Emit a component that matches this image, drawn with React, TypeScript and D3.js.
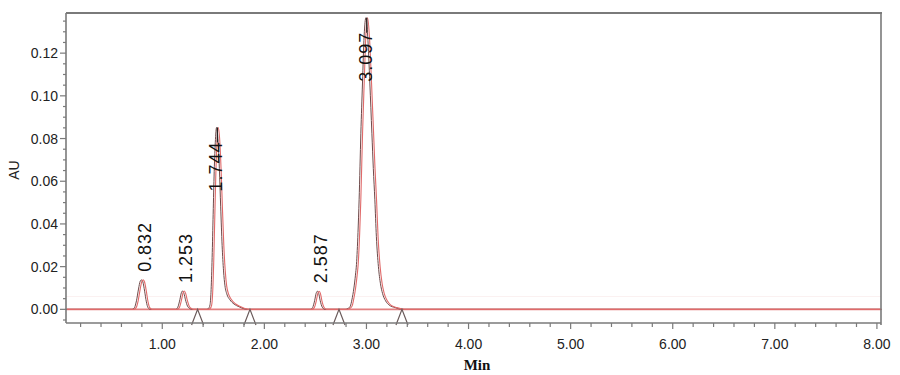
import React from "react";
import * as d3 from "d3";

const traceTimes = [
  0.057, 0.71, 0.735, 0.755, 0.775, 0.792, 0.805, 0.818, 0.835, 0.852, 0.868, 0.89,
  1.14, 1.16, 1.18, 1.195, 1.207, 1.22, 1.235, 1.255, 1.28, 1.30,
  1.44, 1.46, 1.475, 1.485, 1.495, 1.505, 1.515, 1.527, 1.54, 1.553, 1.567, 1.58, 1.594, 1.608, 1.622, 1.64, 1.67, 1.71, 1.76, 1.80, 1.84,
  2.46, 2.48, 2.50, 2.515, 2.528, 2.54, 2.555, 2.575, 2.60,
  2.80, 2.83, 2.85, 2.865, 2.885, 2.90, 2.91, 2.925, 2.936, 2.953, 2.969, 2.985, 3.003, 3.02, 3.041, 3.061, 3.075, 3.09, 3.105, 3.125, 3.145, 3.165, 3.195, 3.23, 3.29, 3.36,
  8.04,
];
const traceValues = [
  0, 0, 0.0008, 0.004, 0.0095, 0.0132, 0.0138, 0.0128, 0.0085, 0.0035, 0.0008, 0,
  0, 0.001, 0.0045, 0.0078, 0.0086, 0.0075, 0.0045, 0.0015, 0.0003, 0,
  0, 0.0004, 0.002, 0.008, 0.022, 0.042, 0.062, 0.078, 0.0852, 0.08, 0.066, 0.048, 0.03, 0.018, 0.011, 0.0072, 0.0045, 0.0025, 0.0012, 0.0004, 0,
  0, 0.0008, 0.004, 0.0075, 0.0085, 0.0075, 0.004, 0.001, 0,
  0, 0.0005, 0.0015, 0.0044, 0.01, 0.016, 0.021, 0.036, 0.0513, 0.0825, 0.106, 0.128, 0.1366, 0.128, 0.106, 0.0825, 0.066, 0.0513, 0.034, 0.02, 0.012, 0.0075, 0.004, 0.002, 0.0008, 0,
  0,
];

// Peak annotations
const peakLabels = ["0.832", "1.253", "1.744", "2.587", "3.097"];
const peakTimes = [0.805, 1.207, 1.54, 2.528, 3.003];
const peakHeights = [0.0138, 0.0086, 0.0852, 0.0085, 0.1366];

// Integration start/end markers
const markerTimes = [1.346, 1.859, 2.731, 3.348];

// Axis ticks
const xMajorTicks = [1, 2, 3, 4, 5, 6, 7, 8];
const xTickLabels = ["1.00", "2.00", "3.00", "4.00", "5.00", "6.00", "7.00", "8.00"];
const yMajorTicks = [0, 0.02, 0.04, 0.06, 0.08, 0.1, 0.12];
const yTickLabels = ["0.00", "0.02", "0.04", "0.06", "0.08", "0.10", "0.12"];

const W = 900;
const H = 375;
const L = 66;
const R = 881;
const T = 13;
const B = 323;

export default function App() {
  const x = d3.scaleLinear().domain([0.057, 8.04]).range([L, R]);
  const y = d3.scaleLinear().domain([-0.0064, 0.1388]).range([B, T]);

  const pts: [number, number][] = traceTimes.map((t, i) => [t, traceValues[i]]);
  const line = d3
    .line<[number, number]>()
    .x((d) => x(d[0]))
    .y((d) => y(d[1]))
    .curve(d3.curveMonotoneX);
  const tracePath = line(pts) || "";

  const xMinor = d3.range(1, 41).map((i) => i * 0.2).filter((v) => Math.abs(v - Math.round(v)) > 1e-6);
  const yMinor = d3.range(-1, 28).map((i) => i * 0.005).filter((v) => Math.abs(v / 0.02 - Math.round(v / 0.02)) > 1e-6);

  const axisColor = "#7a7a7a";
  const font = "'Liberation Sans', Arial, sans-serif";

  return (
    <svg width={W} height={H} style={{ position: "absolute", left: 0, top: 0, background: "#fff" }}>
      <rect x={0} y={0} width={W} height={H} fill="#fff" />
      {/* faint secondary line */}
      <line x1={L} x2={R} y1={y(0.006)} y2={y(0.006)} stroke="#fbf1f1" strokeWidth={1} />
      {/* baseline */}
      <line x1={L} x2={R} y1={y(0)} y2={y(0)} stroke="#e28080" strokeWidth={1.6} />

      {/* trace */}
      <path d={tracePath} fill="none" stroke="#6e4a4a" strokeWidth={1} transform="translate(-0.8,0)" />
      <path d={tracePath} fill="none" stroke="#e06a6a" strokeWidth={1.1} transform="translate(0.9,0)" />

      {/* integration markers */}
      {markerTimes.map((t, i) => {
        const cx = x(t);
        const cy = y(0);
        return (
          <polyline
            key={i}
            points={`${cx - 6},${B + 2} ${cx},${cy} ${cx + 6},${B + 2}`}
            fill="none"
            stroke="#6a5a5a"
            strokeWidth={1.2}
          />
        );
      })}

      {/* frame */}
      <line x1={L} x2={R + 1} y1={T} y2={T} stroke={axisColor} strokeWidth={2} />
      <line x1={R} x2={R} y1={T} y2={B + 2} stroke={axisColor} strokeWidth={1.6} />
      <line x1={L} x2={L} y1={T} y2={B} stroke={axisColor} strokeWidth={1.6} />
      <line x1={L} x2={R} y1={B} y2={B} stroke={axisColor} strokeWidth={1.6} />

      {/* x ticks */}
      {xMinor.map((v, i) => (
        <line key={"xm" + i} x1={x(v)} x2={x(v)} y1={B} y2={B + 4} stroke={axisColor} strokeWidth={1.2} />
      ))}
      {xMajorTicks.map((v, i) => (
        <g key={"xM" + i}>
          <line x1={x(v)} x2={x(v)} y1={B} y2={B + 6} stroke={axisColor} strokeWidth={1.2} />
          <text x={x(v)} y={349} textAnchor="middle" fontFamily={font} fontSize={14} fill="#222">
            {xTickLabels[i]}
          </text>
        </g>
      ))}

      {/* y ticks */}
      {yMinor.map((v, i) => (
        <line key={"ym" + i} x1={L - 3} x2={L} y1={y(v)} y2={y(v)} stroke={axisColor} strokeWidth={1.2} />
      ))}
      {yMajorTicks.map((v, i) => (
        <g key={"yM" + i}>
          <line x1={L - 6} x2={L} y1={y(v)} y2={y(v)} stroke={axisColor} strokeWidth={1.2} />
          <text x={58} y={y(v) + 5} textAnchor="end" fontFamily={font} fontSize={14} fill="#222">
            {yTickLabels[i]}
          </text>
        </g>
      ))}

      {/* axis titles */}
      <text x={477} y={370} textAnchor="middle" fontFamily="'Liberation Serif', 'Times New Roman', serif" fontWeight="bold" fontSize={15} fill="#111">
        Min
      </text>
      <text transform={`translate(19,170) rotate(-90)`} textAnchor="middle" fontFamily={font} fontSize={14} fill="#222">
        AU
      </text>

      {/* peak labels */}
      {peakLabels.map((lab, i) => {
        const ax = x(peakTimes[i]);
        const ay = y(peakHeights[i]);
        const big = peakHeights[i] > 0.05;
        const bx = big ? ax + 5 : ax + 9;
        const by = big ? ay + 64 : ay - 8;
        return (
          <g key={"p" + i}>
            {big && <line x1={ax} x2={ax} y1={ay} y2={ay + 15} stroke="#222" strokeWidth={1.2} />}
            <text
              transform={`translate(${bx},${by}) rotate(-90)`}
              fontFamily={font}
              fontSize={18}
              textLength={49}
              lengthAdjust="spacing"
              fill="#111"
            >
              {lab}
            </text>
          </g>
        );
      })}
    </svg>
  );
}
